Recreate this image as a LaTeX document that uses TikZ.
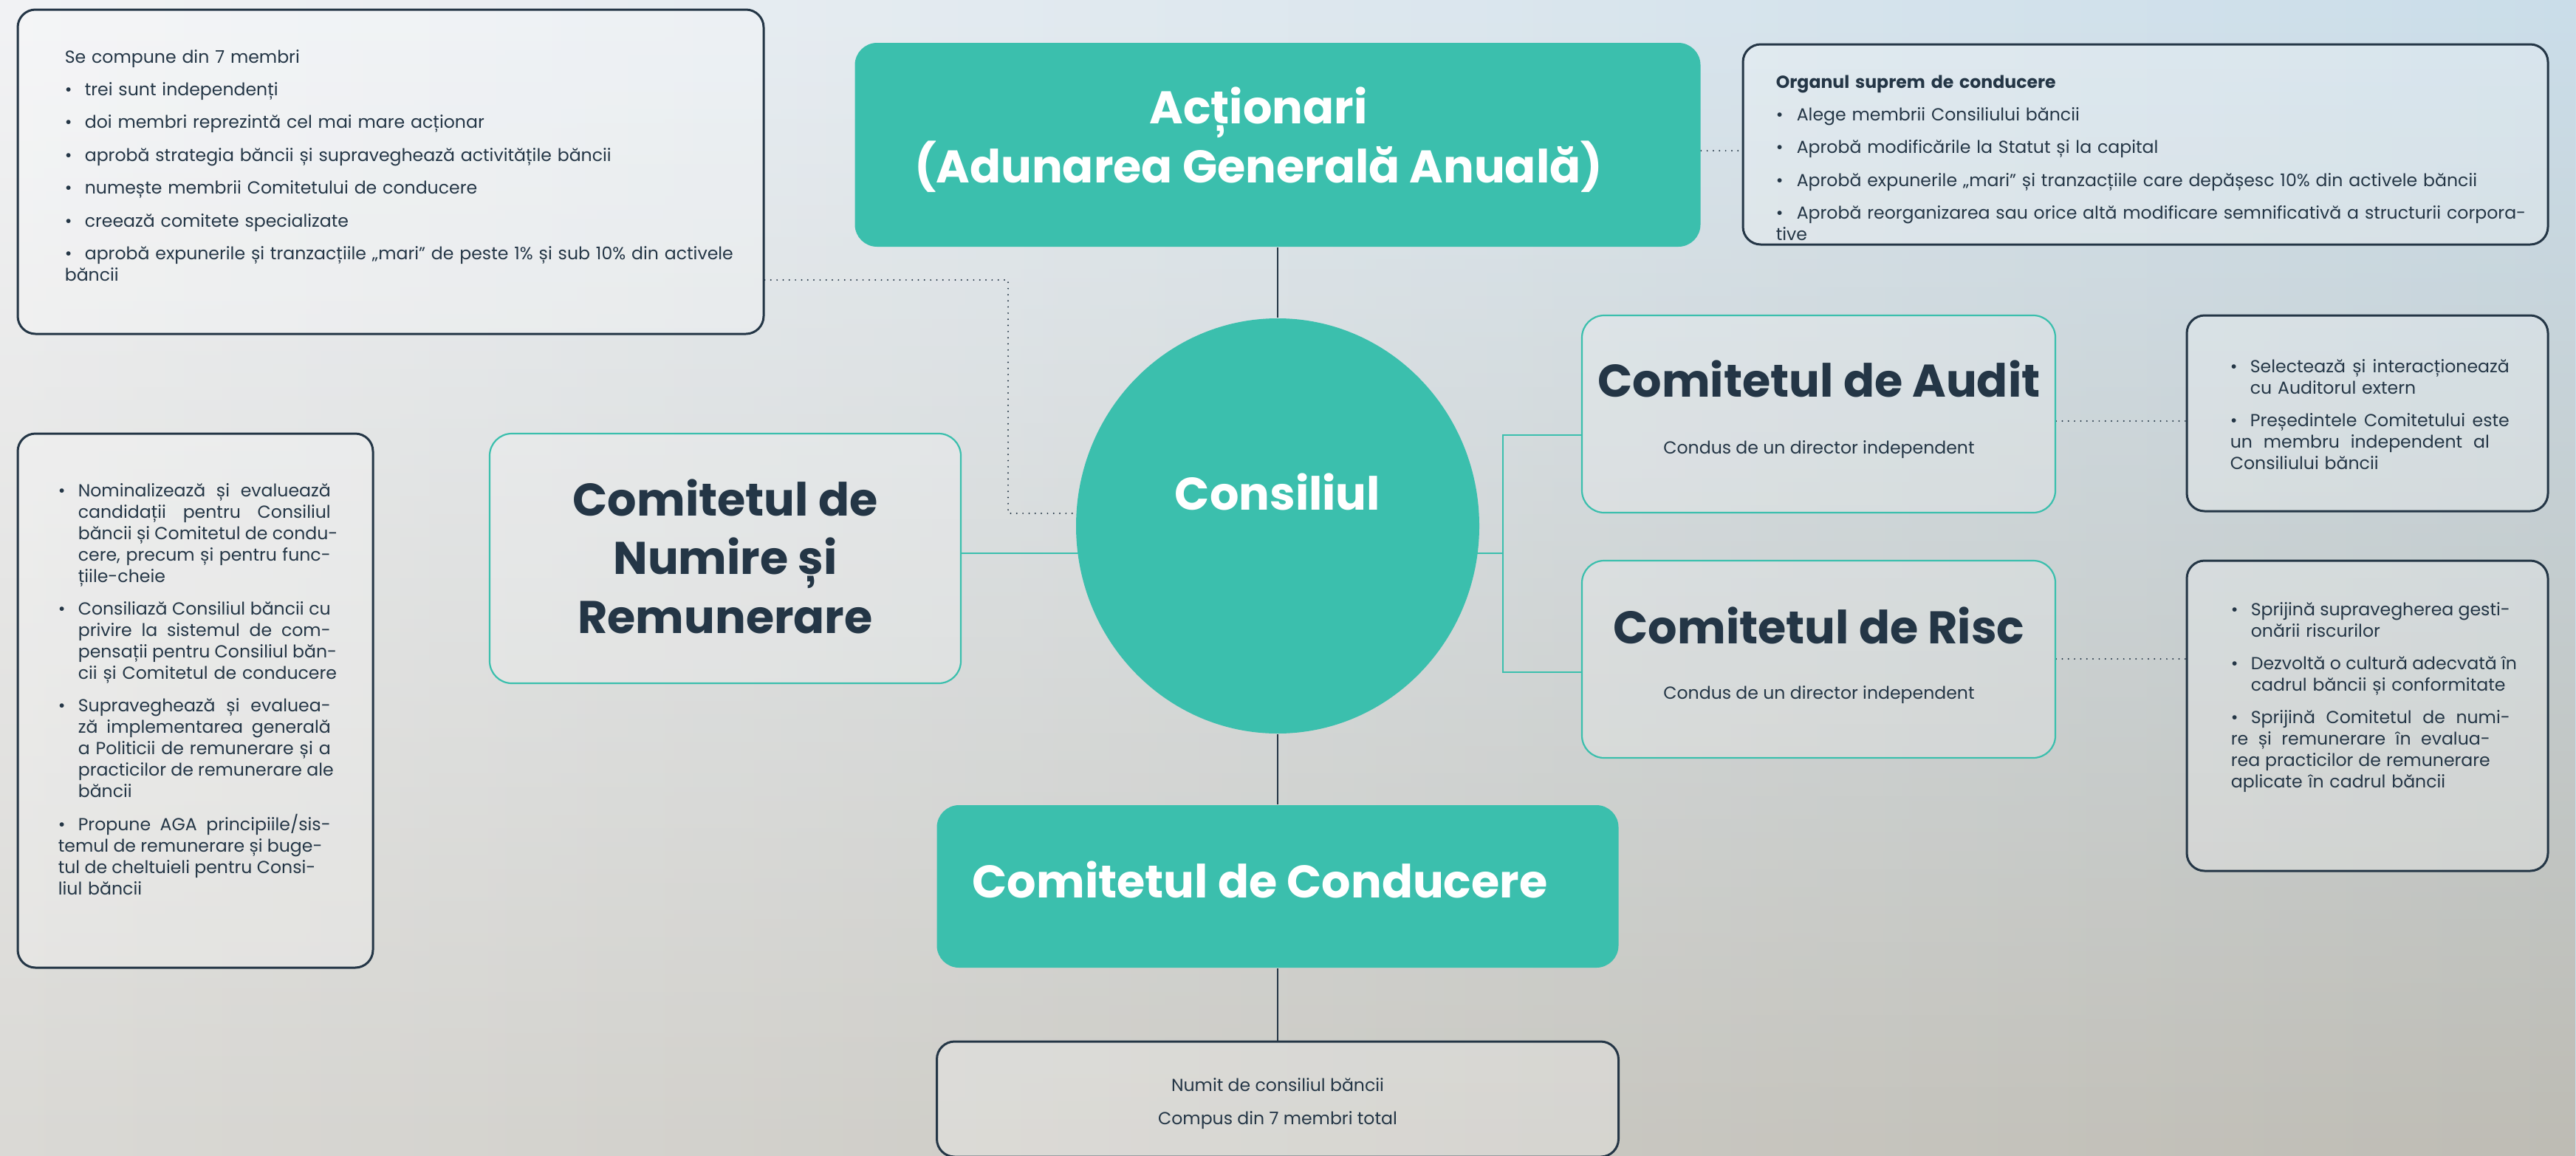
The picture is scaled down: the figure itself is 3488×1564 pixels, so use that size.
\documentclass[tikz,border=0pt]{standalone}
\usepackage{fontspec}
\setmainfont{Poppins}
\usetikzlibrary{shapes.geometric,fadings}
\definecolor{teal1}{HTML}{3BBFAD}
\definecolor{ink}{HTML}{243646}
\definecolor{bgA}{HTML}{F2F3F5}
\definecolor{bgB}{HTML}{CBDEEA}
\definecolor{bgC}{HTML}{DAD9D5}
\definecolor{bgD}{HTML}{BEBCB4}
\pgfdeclarelayer{bglayer}
\pgfdeclarelayer{linelayer}
\pgfsetlayers{bglayer,linelayer,main}
\tikzfading[name=lowfade, top color=transparent!100, middle color=transparent!100, bottom color=transparent!0]
\def\pxu{0.25pt}
\newcommand\jl[1]{\hbox to \mylw{\spaceskip=\fontdimen2\font plus 1fil\relax #1}}
\newcommand\rl[1]{\mbox{#1}}
\newcommand\itf[1]{\hangindent=\mybw\hangafter=1\makebox[\mybw][l]{\textbullet}#1}
\newcommand\itn[1]{\par\noindent\hangindent=\mybw\hangafter=1\makebox[\mybw][l]{\textbullet}#1}
\tikzset{
  notebox/.style={draw=ink, line width=0.75pt, rounded corners=6pt, fill=white, fill opacity=0.25, inner sep=0pt},
  tealbox/.style={fill=teal1, rounded corners=7.5pt, inner sep=0pt},
  outbox/.style={draw=teal1, line width=0.55pt, rounded corners=7.5pt, fill=white, fill opacity=0.2, inner sep=0pt},
  titletext/.style={font=\fontsize{15.5}{19}\selectfont\bfseries, inner sep=0pt, anchor=base},
  small/.style={font=\fontsize{5.9}{7.25}\selectfont, text=ink, inner sep=0pt},
  link/.style={draw=ink, line width=0.5pt},
  dotlink/.style={draw=ink, line width=0.55pt, line cap=round, dash pattern=on 0pt off 2.08pt},
  teallink/.style={draw=teal1, line width=0.55pt},
}
\begin{document}
\begin{tikzpicture}[x=0.25pt,y=-0.25pt]
\useasboundingbox (0,0) rectangle (3488,1564);
\begin{pgfonlayer}{bglayer}
\shade[left color=bgA, right color=bgB] (0,0) rectangle (3488,1564);
\shade[left color=bgC, right color=bgD, path fading=lowfade] (0,0) rectangle (3488,1564);
\end{pgfonlayer}

% boxes
\node[notebox, minimum width=1010*\pxu, minimum height=439*\pxu] (tl) at (529,232.5) {};
\node[tealbox, minimum width=1145*\pxu, minimum height=276*\pxu] (act) at (1730,196) {};
\node[notebox, minimum width=1090*\pxu, minimum height=271*\pxu] (tr) at (2905,195.5) {};
\node[notebox, minimum width=481*\pxu, minimum height=723*\pxu] (lb) at (264.5,948.5) {};
\node[outbox, minimum width=638*\pxu, minimum height=338*\pxu] (nr) at (982,756) {};
\node[ellipse, fill=teal1, minimum width=546*\pxu, minimum height=562*\pxu, inner sep=0pt] (cons) at (1730,712) {};
\node[outbox, minimum width=641*\pxu, minimum height=267*\pxu] (aud) at (2462.5,560.5) {};
\node[outbox, minimum width=641*\pxu, minimum height=267*\pxu] (risc) at (2462.5,892.5) {};
\node[notebox, minimum width=489*\pxu, minimum height=265*\pxu] (audn) at (3205.5,559.5) {};
\node[notebox, minimum width=489*\pxu, minimum height=420*\pxu] (riscn) at (3205.5,969) {};
\node[tealbox, minimum width=923*\pxu, minimum height=220*\pxu] (cond) at (1730,1200) {};
\node[notebox, minimum width=923*\pxu, minimum height=156*\pxu] (botn) at (1730,1488) {};

% titles
\node[titletext, text=white] (acttxt1) at (1704,167) {Acționari};
\node[titletext, text=white] (acttxt2) at (1704,247) {(Adunarea Generală Anuală)};
\node[titletext, text=white] (constxt) at (1730,690) {Consiliul};
\node[titletext, text=ink] (nrtxt1) at (982,698) {Comitetul de};
\node[titletext, text=ink] (nrtxt2) at (982,777) {Numire și};
\node[titletext, text=ink] (nrtxt3) at (982,857) {Remunerare};
\node[titletext, text=ink] (audtxt) at (2463,537) {Comitetul de Audit};
\node[small, anchor=base] (audsub) at (2463,614) {Condus de un director independent};
\node[titletext, text=ink] (risctxt) at (2463,871) {Comitetul de Risc};
\node[small, anchor=base] (riscsub) at (2463,946) {Condus de un director independent};
\node[titletext, text=white] (condtxt) at (1706,1215) {Comitetul de Conducere};
\node[small, anchor=base] (bot1) at (1730,1477) {Numit de consiliul băncii};
\node[small, anchor=base] (bot2) at (1730,1522) {Compus din 7 membri total};

% note texts
\node[small, anchor=base west, text width=1000*\pxu] (tltxt) at (87,85) {\def\mybw{6.75pt}\setlength{\parskip}{3.85pt}%
\rl{Se compune din 7 membri}
\itn{\rl{trei sunt independenți}}
\itn{\rl{doi membri reprezintă cel mai mare acționar}}
\itn{\rl{aprobă strategia băncii și supraveghează activitățile băncii}}
\itn{\rl{numește membrii Comitetului de conducere}}
\itn{\rl{creează comitete specializate}}
\itn{\rl{aprobă expunerile și tranzacțiile „mari” de peste 1\% și sub 10\% din activele}\newline\rl{băncii}}};

\node[small, anchor=base west, text width=1100*\pxu] (trtxt) at (2404,119) {\def\mybw{7pt}\setlength{\parskip}{3.85pt}%
\rl{\bfseries Organul suprem de conducere}
\itn{\rl{Alege membrii Consiliului băncii}}
\itn{\rl{Aprobă modificările la Statut și la capital}}
\itn{\rl{Aprobă expunerile „mari” și tranzacțiile care depășesc 10\% din activele băncii}}
\itn{\rl{Aprobă reorganizarea sau orice altă modificare semnificativă a structurii corpora-}\newline\rl{tive}}};

\node[small, anchor=base west, text width=369*\pxu] (lbtxt) at (78,672) {\def\mybw{6.75pt}\def\mylw{85.5pt}\setlength{\parskip}{3.85pt}%
\itf{\jl{Nominalizează și evaluează}\newline\jl{candidații pentru Consiliul}\newline\jl{băncii și Comitetul de condu-}\newline\jl{cere, precum și pentru func-}\newline\rl{țiile-cheie}}
\itn{\jl{Consiliază Consiliul băncii cu}\newline\jl{privire la sistemul de com-}\newline\jl{pensații pentru Consiliul băn-}\newline\rl{cii și Comitetul de conducere}}
\itn{\jl{Supraveghează și evaluea-}\newline\jl{ză implementarea generală}\newline\jl{a Politicii de remunerare și a}\newline\jl{practicilor de remunerare ale}\newline\rl{băncii}}
\itn{\jl{Propune AGA principiile/sis-}\newline\jl{temul de remunerare și buge-}\newline\jl{tul de cheltuieli pentru Consi-}\newline\rl{liul băncii}}};

\node[small, anchor=base west, text width=378*\pxu] (audntxt) at (3019,504) {\def\mybw{6.75pt}\def\mylw{87.75pt}\setlength{\parskip}{3.85pt}%
\itf{\jl{Selectează și interacționează}\newline\rl{cu Auditorul extern}}
\itn{\jl{Președintele Comitetului este}\newline\jl{un membru independent al}\newline\rl{Consiliului băncii}}};

\node[small, anchor=base west, text width=378*\pxu] (riscntxt) at (3020,833) {\def\mybw{6.75pt}\def\mylw{87.75pt}\setlength{\parskip}{3.85pt}%
\itf{\jl{Sprijină supravegherea gesti-}\newline\rl{onării riscurilor}}
\itn{\jl{Dezvoltă o cultură adecvată în}\newline\rl{cadrul băncii și conformitate}}
\itn{\jl{Sprijină Comitetul de numi-}\newline\jl{re și remunerare în evalua-}\newline\jl{rea practicilor de remunerare}\newline\rl{aplicate în cadrul băncii}}};

% connectors
\coordinate (bendA) at (1365,695);
\coordinate (brk) at (2035,749);
\begin{pgfonlayer}{linelayer}
\draw[link] (act.south) -- (cons.north);
\draw[link] (cons.south) -- (cond.north);
\draw[link] (cond.south) -- (botn.north);
\draw[dotlink] (act.east |- 0,204) -- (tr.west |- 0,204);
\draw[dotlink] (tl.east |- 0,379) -| (bendA) -- (cons.center |- bendA);
\draw[teallink] (nr.east |- brk) -- (cons.center |- brk);
\draw[teallink] (cons.center |- brk) -- (brk);
\draw[teallink] (aud.west |- 0,589) -| (brk |- 0,910) -- (risc.west |- 0,910);
\draw[dotlink] (aud.east |- 0,570) -- (audn.west |- 0,570);
\draw[dotlink] (risc.east |- 0,892) -- (riscn.west |- 0,892);
\end{pgfonlayer}
\end{tikzpicture}
\end{document}
